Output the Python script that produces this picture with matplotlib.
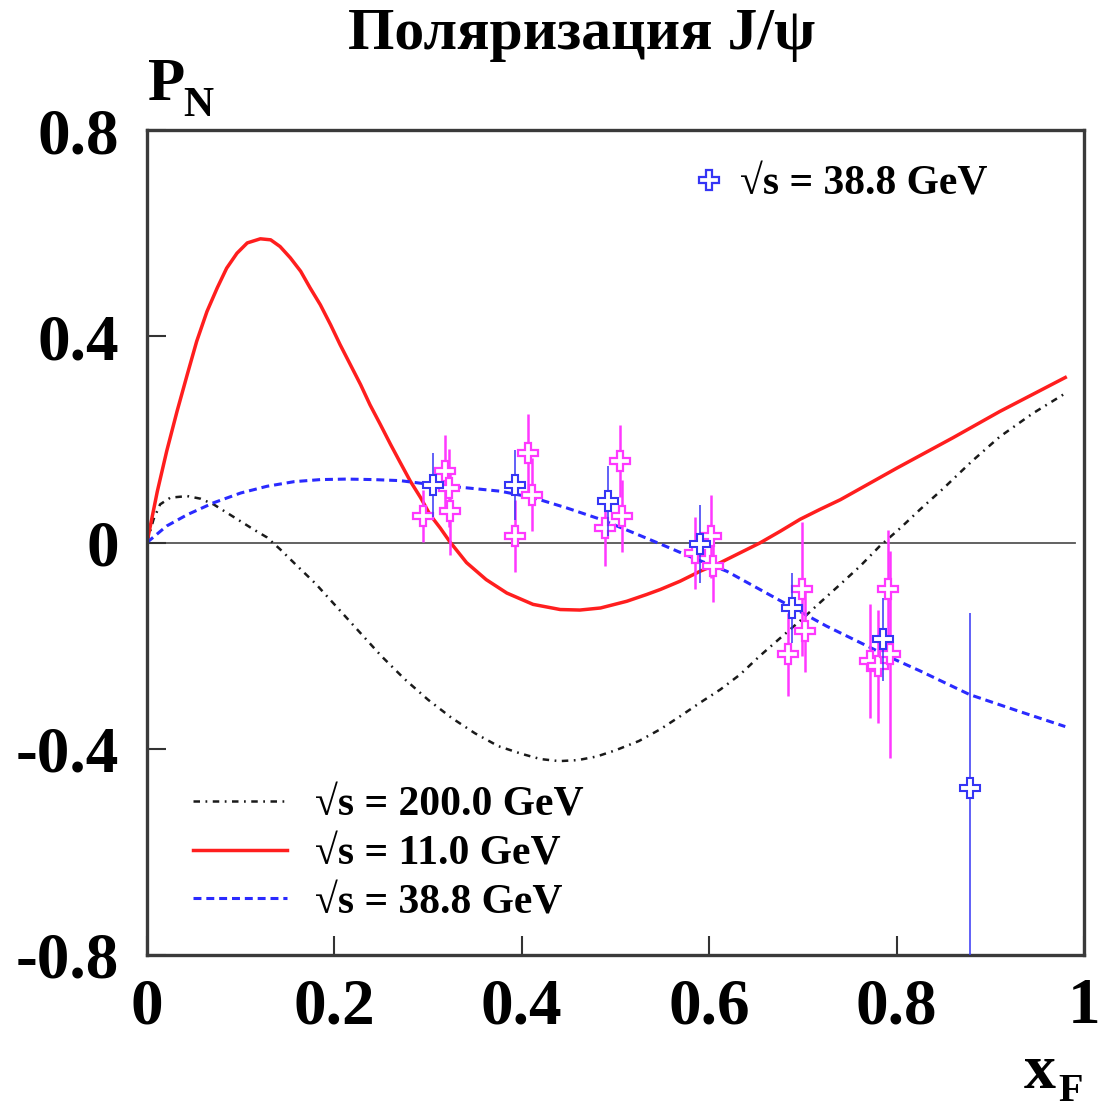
import matplotlib
matplotlib.use("Agg")
import matplotlib.pyplot as plt
from matplotlib.lines import Line2D

# Model curves P_N(x_F) for three collision energies
red_x = [0, 0.011, 0.021, 0.032, 0.043, 0.053, 0.064, 0.075, 0.085, 0.096, 0.107,
         0.121, 0.132, 0.142, 0.153, 0.164, 0.174, 0.185, 0.196, 0.206, 0.217,
         0.228, 0.238, 0.249, 0.260, 0.270, 0.281, 0.292, 0.302, 0.313, 0.323,
         0.341, 0.362, 0.384, 0.412, 0.441, 0.462, 0.484, 0.512, 0.533, 0.548,
         0.569, 0.590, 0.612, 0.633, 0.654, 0.676, 0.697, 0.718, 0.740, 0.800,
         0.860, 0.910, 0.980]
red_y = [0, 0.099, 0.177, 0.254, 0.326, 0.390, 0.448, 0.494, 0.532, 0.561, 0.581,
         0.589, 0.587, 0.574, 0.552, 0.526, 0.494, 0.461, 0.422, 0.384, 0.345,
         0.306, 0.267, 0.229, 0.190, 0.156, 0.119, 0.087, 0.054, 0.028, 0.002,
         -0.039, -0.072, -0.098, -0.120, -0.130, -0.131, -0.127, -0.114, -0.101, -0.091,
         -0.075, -0.056, -0.039, -0.020, -0.001, 0.022, 0.045, 0.064, 0.083, 0.144,
         0.203, 0.254, 0.320]

black_x = [0, 0.007, 0.014, 0.025, 0.043, 0.057, 0.071, 0.085, 0.100, 0.114, 0.128,
           0.142, 0.160, 0.180, 0.200, 0.225, 0.250, 0.275, 0.300, 0.325, 0.350,
           0.375, 0.400, 0.420, 0.440, 0.460, 0.480, 0.500, 0.525, 0.548, 0.569,
           0.590, 0.612, 0.633, 0.654, 0.676, 0.697, 0.718, 0.740, 0.761, 0.782,
           0.804, 0.825, 0.850, 0.880, 0.910, 0.945, 0.978]
black_y = [0, 0.045, 0.074, 0.087, 0.090, 0.085, 0.074, 0.058, 0.041, 0.025, 0.010,
           -0.013, -0.045, -0.080, -0.120, -0.170, -0.220, -0.265, -0.305, -0.340, -0.370,
           -0.395, -0.410, -0.420, -0.424, -0.422, -0.415, -0.403, -0.385, -0.362, -0.337,
           -0.311, -0.285, -0.256, -0.220, -0.185, -0.152, -0.117, -0.081, -0.046, -0.007,
           0.028, 0.064, 0.105, 0.157, 0.205, 0.250, 0.287]

blue_x = [0, 0.021, 0.043, 0.071, 0.100, 0.128, 0.157, 0.185, 0.213, 0.242, 0.270,
          0.305, 0.341, 0.377, 0.412, 0.448, 0.484, 0.519, 0.548, 0.583, 0.619,
          0.654, 0.690, 0.725, 0.761, 0.797, 0.825, 0.878, 0.930, 0.980]
blue_y = [0, 0.032, 0.054, 0.077, 0.096, 0.109, 0.118, 0.122, 0.123, 0.122, 0.120,
          0.112, 0.106, 0.0995, 0.087, 0.067, 0.045, 0.019, -0.003, -0.030, -0.056,
          -0.091, -0.127, -0.162, -0.194, -0.226, -0.249, -0.295, -0.327, -0.357]

# Measured points
mag_x = [0.295, 0.318, 0.322, 0.323, 0.393, 0.407, 0.411, 0.489, 0.505, 0.507,
         0.585, 0.602, 0.604, 0.684, 0.699, 0.702, 0.772, 0.780, 0.791, 0.793]
mag_y = [0.051, 0.138, 0.106, 0.061, 0.012, 0.174, 0.093, 0.028, 0.158, 0.051,
         -0.020, 0.012, -0.045, -0.217, -0.091, -0.172, -0.230, -0.240, -0.091, -0.217]
mag_err = [0.05, 0.07, 0.075, 0.085, 0.07, 0.075, 0.07, 0.074, 0.07, 0.07,
           0.07, 0.08, 0.07, 0.08, 0.13, 0.08, 0.11, 0.11, 0.115, 0.20]

pts_x = [0.305, 0.393, 0.492, 0.590, 0.688, 0.786, 0.878]
pts_y = [0.112, 0.112, 0.080, -0.003, -0.127, -0.188, -0.477]
pts_err = [0.062, 0.068, 0.068, 0.075, 0.068, 0.08, 0.341]

x_ticks = [0, 0.2, 0.4, 0.6, 0.8, 1]
x_ticklabels = ["0", "0.2", "0.4", "0.6", "0.8", "1"]
y_ticks = [-0.8, -0.4, 0, 0.4, 0.8]
y_ticklabels = ["-0.8", "-0.4", "0", "0.4", "0.8"]

curve_labels = ["\u221As = 200.0 GeV", "\u221As = 11.0 GeV", "\u221As = 38.8 GeV"]
data_label = "\u221As = 38.8 GeV"

SERIF = ["Liberation Serif", "DejaVu Serif"]
plt.rcParams["font.family"] = SERIF
plt.rcParams["font.weight"] = "bold"

RED = "#ff1e1e"
BLUE_LINE = "#2a2aff"
BLACK = "#1a1a1a"
MAGENTA = "#ff38ff"
BLUE_PTS = "#3535f5"

fig = plt.figure(figsize=(11.04, 11.09), dpi=100)
ax = fig.add_axes([147 / 1104, 1 - 955 / 1109, (1084 - 147) / 1104, (955 - 130) / 1109])

ax.plot([0, 0.99], [0, 0], color="#555555", lw=1.3, zorder=1)

l_black, = ax.plot(black_x, black_y, color=BLACK, lw=1.8,
                   linestyle=(0, (2.6, 2.2, 0.7, 2.2)), zorder=2)
l_red, = ax.plot(red_x, red_y, color=RED, lw=2.5, zorder=2)
l_blue, = ax.plot(blue_x, blue_y, color=BLUE_LINE, lw=2.2,
                  linestyle=(0, (2.6, 1.6)), zorder=2)

ax.errorbar(mag_x, mag_y, yerr=mag_err, fmt="P", ms=15, mfc="white", mec=MAGENTA,
            mew=1.6, ecolor=MAGENTA, elinewidth=1.8, capsize=0, zorder=3)
ax.errorbar(pts_x, pts_y, yerr=pts_err, fmt="P", ms=15, mfc="white", mec=BLUE_PTS,
            mew=1.5, ecolor=BLUE_PTS, elinewidth=1.1, capsize=0, zorder=4)

ax.set_xlim(0, 1)
ax.set_ylim(-0.8, 0.8)
ax.set_xticks(x_ticks)
ax.set_xticklabels(x_ticklabels)
ax.set_yticks(y_ticks)
ax.set_yticklabels(y_ticklabels)
ax.tick_params(direction="in", length=14, width=1.5, color="#333333",
               labelsize=47, top=False, right=False)
ax.tick_params(axis="x", pad=16)
ax.tick_params(axis="y", pad=20)
for lab in ax.get_xticklabels() + ax.get_yticklabels():
    lab.set_fontweight("bold")
for sp in ax.spines.values():
    sp.set_linewidth(2.4)
    sp.set_color("#3a3a3a")

# Curve legend, lower left
leg1 = ax.legend([l_black, l_red, l_blue], curve_labels, loc="lower left",
                 bbox_to_anchor=(0.049, 0.04), frameon=False,
                 prop={"family": SERIF, "weight": "bold", "size": 30},
                 handlelength=2.25, handletextpad=0.67, labelspacing=0.25,
                 borderpad=0, borderaxespad=0)
ax.add_artist(leg1)

# Data legend, upper right
h_pts = Line2D([], [], linestyle="none", marker="P", ms=15, mfc="white",
               mec=BLUE_PTS, mew=1.6)
ax.legend([h_pts], [data_label], loc="center left", bbox_to_anchor=(0.583, 0.934),
          frameon=False, prop={"family": SERIF, "weight": "bold", "size": 30},
          handlelength=0.75, handletextpad=0.37, borderpad=0, borderaxespad=0)

fig.text(582 / 1104, 1 - 35 / 1109, "\u041f\u043e\u043b\u044f\u0440\u0438\u0437\u0430\u0446\u0438\u044f J/\u03c8",
         ha="center", va="center", fontsize=43, fontweight="bold")
fig.text(148 / 1104, 1 - 100 / 1109, "P", ha="left", va="baseline",
         fontsize=44, fontweight="bold")
fig.text(183 / 1104, 1 - 116 / 1109, "N", ha="left", va="baseline",
         fontsize=30, fontweight="bold")
fig.text(1024 / 1104, 1 - 1088 / 1109, "x", ha="left", va="baseline",
         fontsize=46, fontweight="bold")
fig.text(1058 / 1104, 1 - 1101 / 1109, "F", ha="left", va="baseline",
         fontsize=29, fontweight="bold")

fig.savefig("out.png", dpi=100, facecolor="white")
